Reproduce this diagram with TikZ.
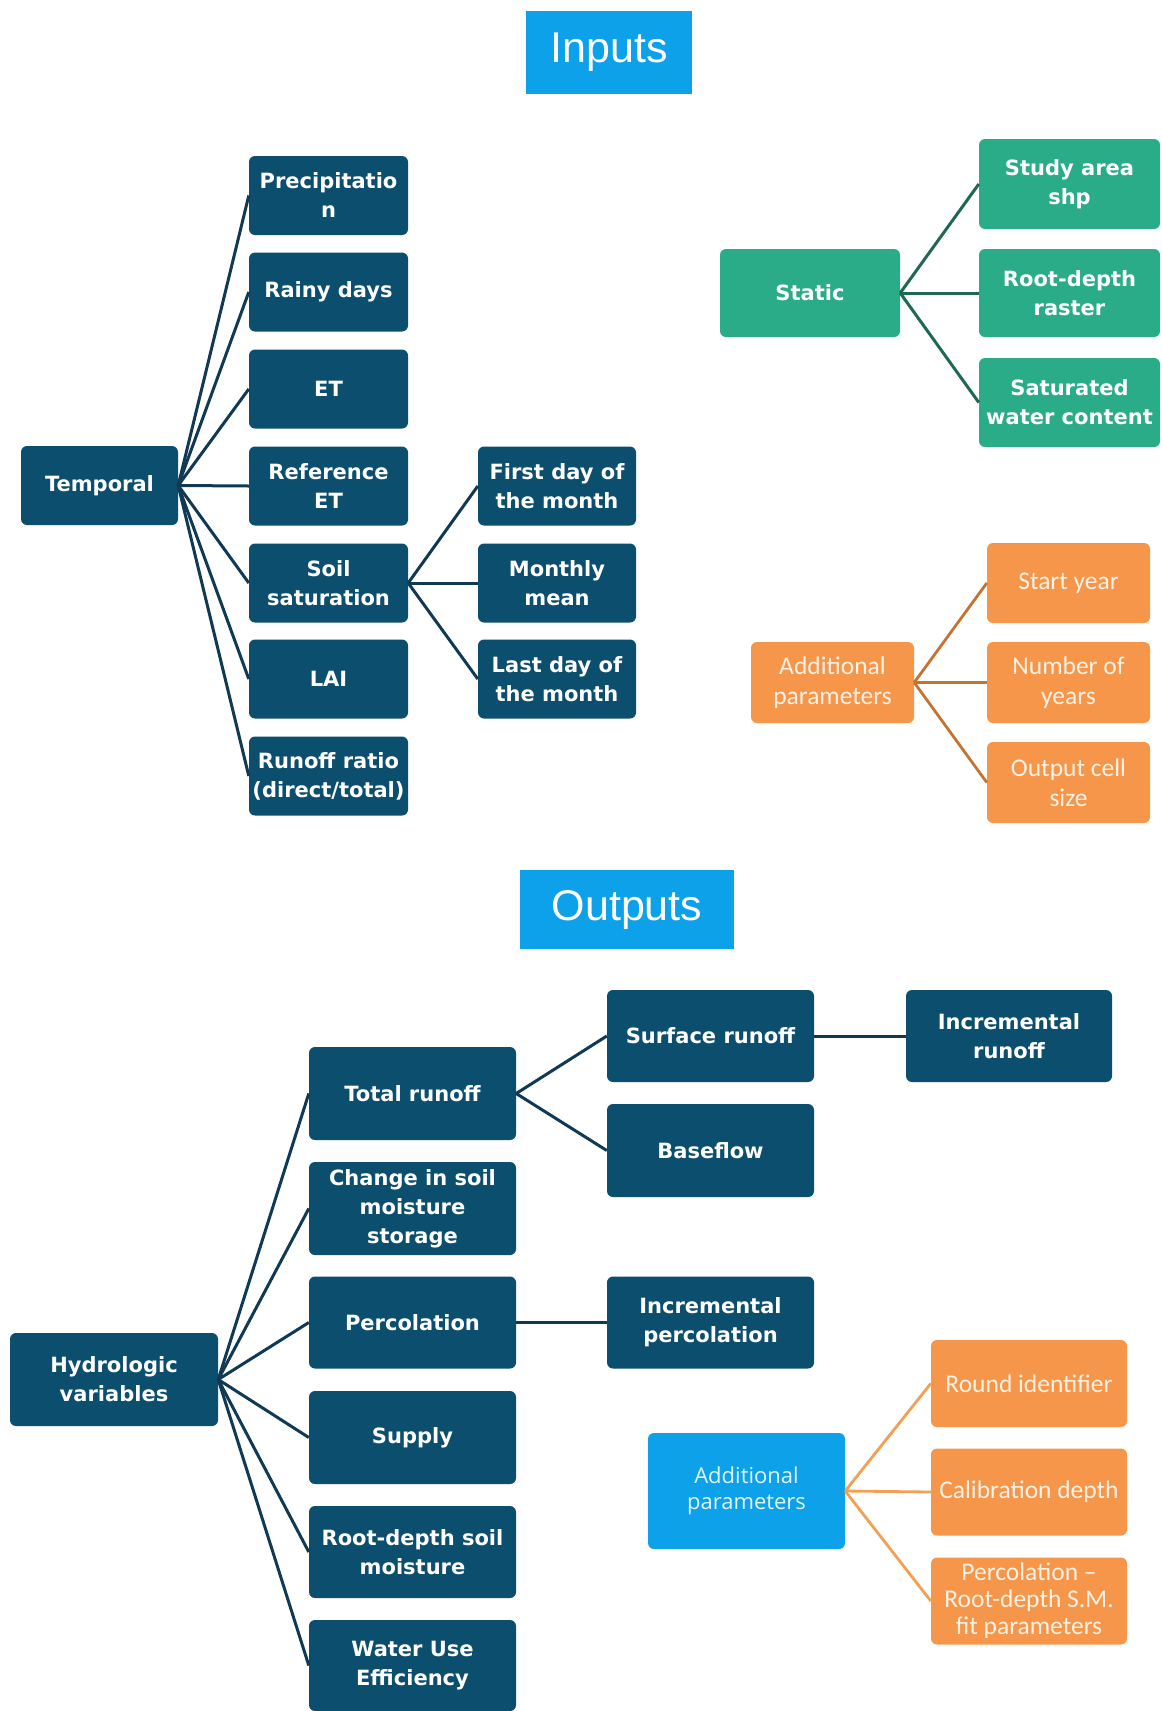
\documentclass[tikz,border=0pt]{standalone}
\usepackage{fontspec}
\setmainfont{DejaVu Sans}
\newfontfamily\calfont{Carlito}
\newfontfamily\openfont{Open Sans}
\newfontfamily\arialfont{Liberation Sans}

\definecolor{navy}{RGB}{12,78,110}
\definecolor{navyline}{RGB}{16,58,84}
\definecolor{teal}{RGB}{42,172,136}
\definecolor{tealline}{RGB}{30,104,84}
\definecolor{tangerine}{RGB}{245,150,74}
\definecolor{rustline}{RGB}{196,116,50}
\definecolor{peachline}{RGB}{242,160,84}
\definecolor{sky}{RGB}{12,161,232}

\begin{document}
\begin{tikzpicture}[x=1pt, y=-1pt,
        navybox/.style={fill=navy, text=white, rounded corners=6pt, align=center, inner sep=1pt,
            font=\bfseries\fontsize{21}{29}\selectfont, minimum width=159pt, minimum height=79pt},
        tealbox/.style={navybox, fill=teal, minimum width=181pt, minimum height=88pt},
        orangebox/.style={fill=tangerine, text=white!90!orange, rounded corners=6pt, align=center, inner sep=1pt,
            font=\calfont\fontsize{25.5}{30}\selectfont, minimum width=163pt, minimum height=80pt},
        titlebox/.style={fill=sky, text=white, inner sep=0pt, font=\arialfont\fontsize{43}{50}\selectfont},
        navylink/.style={draw=navyline, line width=3pt},
        teallink/.style={draw=tealline, line width=3pt},
        rustlink/.style={draw=rustline, line width=2.8pt},
        peachlink/.style={draw=peachline, line width=2.8pt}]
        \useasboundingbox[fill=white] (0, 0) rectangle (1162, 1711);

        % inputs
        \node[titlebox, minimum width=166pt, minimum height=83pt] (inputs) at (609, 52) {Inputs};
        \node[navybox, minimum width=157pt] (temporal) at (99.5, 485.5) {Temporal};
        \node[navybox] (precip) at (328.5, 195.5) {Precipitatio\\n};
        \node[navybox] (rainy) at (328.5, 292) {Rainy days};
        \node[navybox] (et) at (328.5, 389) {ET};
        \node[navybox] (refet) at (328.5, 486) {Reference\\ET};
        \node[navybox] (soilsat) at (328.5, 583) {Soil\\saturation};
        \node[navybox] (lai) at (328.5, 679) {LAI};
        \node[navybox] (ratio) at (328.5, 776) {Runoff ratio\\(direct/total)};
        \node[navybox, minimum width=158pt] (firstday) at (557, 486) {First day of\\the month};
        \node[navybox, minimum width=158pt] (monthly) at (557, 583) {Monthly\\mean};
        \node[navybox, minimum width=158pt] (lastday) at (557, 679) {Last day of\\the month};
        \draw[navylink] (temporal.east) -- (precip.west);
        \draw[navylink] (temporal.east) -- (rainy.west);
        \draw[navylink] (temporal.east) -- (et.west);
        \draw[navylink] (temporal.east) -- (refet.west);
        \draw[navylink] (temporal.east) -- (soilsat.west);
        \draw[navylink] (temporal.east) -- (lai.west);
        \draw[navylink] (temporal.east) -- (ratio.west);
        \draw[navylink] (soilsat.east) -- (firstday.west);
        \draw[navylink] (soilsat.east) -- (monthly.west);
        \draw[navylink] (soilsat.east) -- (lastday.west);

        \node[tealbox, minimum width=180pt] (static) at (810, 293) {Static};
        \node[tealbox, minimum height=90pt] (studyarea) at (1069.5, 184) {Study area\\shp};
        \node[tealbox] (rootraster) at (1069.5, 293) {Root-depth\\raster};
        \node[tealbox, minimum height=89pt] (satwater) at (1069.5, 402.5) {Saturated\\water content};
        \draw[teallink] (static.east) -- (studyarea.west);
        \draw[teallink] (static.east) -- (rootraster.west);
        \draw[teallink] (static.east) -- (satwater.west);

        \node[orangebox, minimum height=81pt] (addin) at (832.5, 682.5) {Additional\\parameters};
        \node[orangebox] (startyear) at (1068.5, 583) {Start year};
        \node[orangebox, minimum height=81pt] (numyears) at (1068.5, 682.5) {Number of\\years};
        \node[orangebox, minimum height=81pt] (cellsize) at (1068.5, 782.5) {Output cell\\size};
        \draw[rustlink] (addin.east) -- (startyear.west);
        \draw[rustlink] (addin.east) -- (numyears.west);
        \draw[rustlink] (addin.east) -- (cellsize.west);

        % outputs
        \node[titlebox, minimum width=214pt, minimum height=79pt] (outputs) at (627, 909.5) {Outputs};
        \node[navybox, minimum width=208pt, minimum height=93pt] (hydro) at (114, 1379.5) {Hydrologic\\variables};
        \node[navybox, minimum width=207pt, minimum height=93pt] (totalrun) at (412.5, 1093.5) {Total runoff};
        \node[navybox, minimum width=207pt, minimum height=93pt] (storage) at (412.5, 1208.5) {Change in soil\\moisture\\storage};
        \node[navybox, minimum width=207pt, minimum height=92pt] (perc) at (412.5, 1322.5) {Percolation};
        \node[navybox, minimum width=207pt, minimum height=93pt] (supply) at (412.5, 1437.5) {Supply};
        \node[navybox, minimum width=207pt, minimum height=92pt] (rootsoil) at (412.5, 1552) {Root-depth soil\\moisture};
        \node[navybox, minimum width=207pt, minimum height=91pt] (wue) at (412.5, 1665.5) {Water Use\\Efficiency};
        \node[navybox, minimum width=207pt, minimum height=92pt] (surface) at (710.5, 1036) {Surface runoff};
        \node[navybox, minimum width=207pt, minimum height=93pt] (baseflow) at (710.5, 1150.5) {Baseflow};
        \node[navybox, minimum width=207pt, minimum height=92pt] (incperc) at (710.5, 1322.5) {Incremental\\percolation};
        \node[navybox, minimum width=206pt, minimum height=92pt] (incrun) at (1009, 1036) {Incremental\\runoff};
        \draw[navylink] (hydro.east) -- (totalrun.west);
        \draw[navylink] (hydro.east) -- (storage.west);
        \draw[navylink] (hydro.east) -- (perc.west);
        \draw[navylink] (hydro.east) -- (supply.west);
        \draw[navylink] (hydro.east) -- (rootsoil.west);
        \draw[navylink] (hydro.east) -- (wue.west);
        \draw[navylink] (totalrun.east) -- (surface.west);
        \draw[navylink] (totalrun.east) -- (baseflow.west);
        \draw[navylink] (surface.east) -- (incrun.west);
        \draw[navylink] (perc.east) -- (incperc.west);

        \node[orangebox, fill=sky, text=white!88!cyan, font=\openfont\fontsize{22}{26}\selectfont,
            minimum width=197pt, minimum height=116pt] (addout) at (746.5, 1491) {Additional\\parameters};
        \node[orangebox, minimum width=196pt, minimum height=87pt] (roundid) at (1029, 1383.5) {Round identifier};
        \node[orangebox, minimum width=196pt, minimum height=87pt] (calib) at (1029, 1492) {Calibration depth};
        \node[orangebox, minimum width=196pt, minimum height=87pt, font=\calfont\fontsize{25.5}{27}\selectfont]
            (fitpar) at (1029, 1601) {Percolation –\\Root-depth S.M.\\fit parameters};
        \draw[peachlink] (addout.east) -- (roundid.west);
        \draw[peachlink] (addout.east) -- (calib.west);
        \draw[peachlink] (addout.east) -- (fitpar.west);
    \end{tikzpicture}
\end{document}
